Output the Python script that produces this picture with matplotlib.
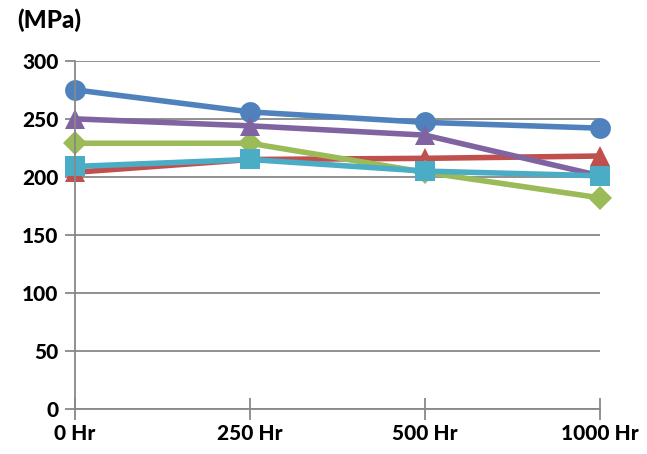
import matplotlib.pyplot as plt
import numpy as np

# categories and series values (MPa)
hours = ["0 Hr", "250 Hr", "500 Hr", "1000 Hr"]
series_blue = [275, 256, 247, 242]
series_red = [204, 215, 216, 218]
series_green = [229, 229, 204, 182]
series_purple = [250, 244, 236, 201]
series_cyan = [209, 215, 205, 201]

colors = ["#4F81BD", "#C0504D", "#9BBB59", "#8064A2", "#4BACC6"]
markers = ["o", "^", "D", "^", "s"]
sizes = [15, 15, 12, 15, 14]
all_series = [series_blue, series_red, series_green, series_purple, series_cyan]

plt.rcParams['font.family'] = ['Lato', 'DejaVu Sans']

fig = plt.figure(figsize=(6.47, 4.54), dpi=100)
ax = fig.add_axes([0.116, 0.099, 0.811, 0.767])

x = np.arange(len(hours))
for vals, c, m, s in zip(all_series, colors, markers, sizes):
    ax.plot(x, vals, color=c, marker=m, markersize=s, linewidth=4,
            markeredgewidth=0, clip_on=False)

ax.set_xlim(0, len(hours) - 1)
ax.set_ylim(0, 300)
ax.set_yticks(np.arange(0, 301, 50))
ax.set_xticks(x)
ax.set_xticklabels(hours)

ax.grid(axis="y", color="#888888", linewidth=1.3)
ax.set_axisbelow(True)
for side in ["top", "right"]:
    ax.spines[side].set_visible(False)
for side in ["left", "bottom"]:
    ax.spines[side].set_color("#888888")
    ax.spines[side].set_linewidth(1.3)

ax.tick_params(axis="y", length=7, width=1.3, color="#888888", pad=5,
               labelsize=15)
ax.tick_params(axis="x", direction="inout", length=16, width=1.3,
               color="#888888", pad=3, labelsize=15)
for lbl in ax.get_xticklabels() + ax.get_yticklabels():
    lbl.set_fontweight("black")

fig.text(0.026, 0.955, "(MPa)", fontsize=17.5, fontweight="black", va="center")

fig.savefig("out.png", dpi=100)
